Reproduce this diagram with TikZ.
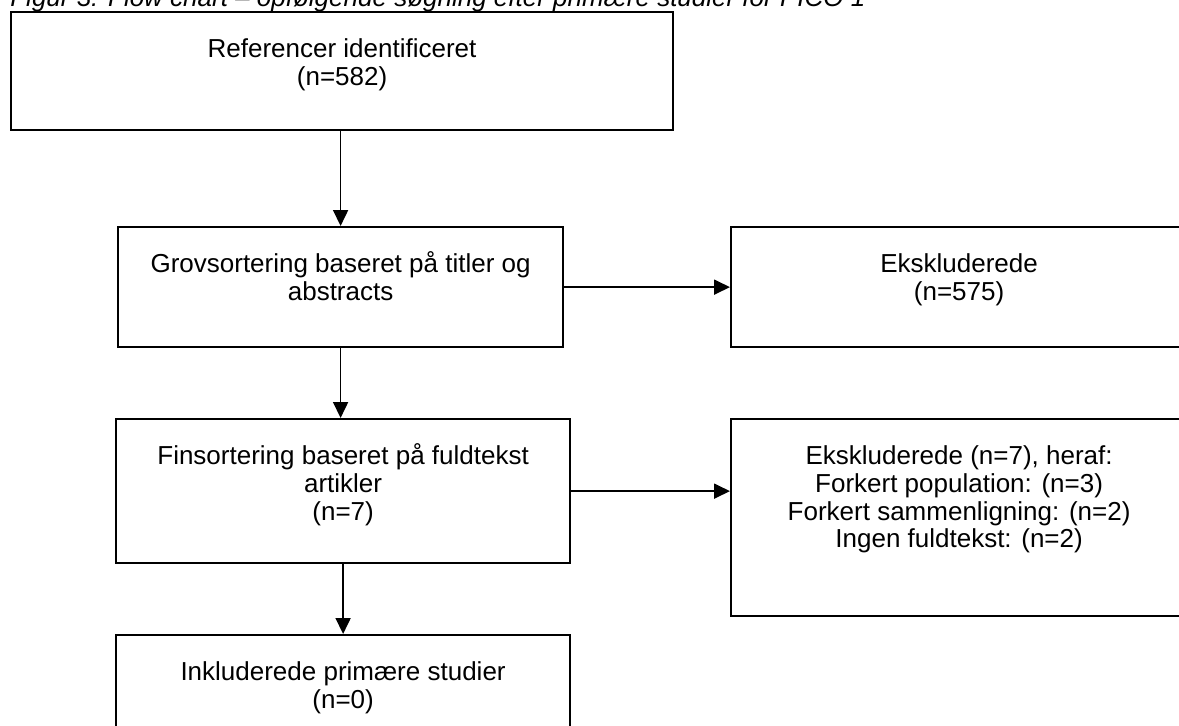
\documentclass[tikz,border=0pt]{standalone}
\usepackage{fontspec}
\setmainfont{Liberation Sans}
\usetikzlibrary{arrows.meta}
\newcommand{\boxlines}[3]{\parbox[c][#2][t]{#1}{\centering\rule{0pt}{0.9cm}#3}}

\begin{document}
\begin{tikzpicture}[x=0.02cm, y=-0.02cm,
      arr/.style={-{Triangle[length=3.2mm,width=3mm]}, line width=1pt},
      flowbox/.style={draw, line width=1.3pt, inner sep=0pt, anchor=north west,
                      font=\fontsize{14.8}{15.9}\selectfont}
    ]
    \useasboundingbox (0,0) rectangle (1179,726);

    \node[anchor=base west, inner sep=0pt,
          font=\fontsize{14.8}{15.9}\selectfont\itshape] (caption) at (10,7)
      {Figur 3: Flow chart – opfølgende søgning efter primære studier for PICO 1};

    \node[flowbox] (ident) at (10,11)
      {\boxlines{13.24cm}{2.36cm}{Referencer identificeret\\(n=582)}};
    \node[flowbox] (grov) at (117,226)
      {\boxlines{8.9cm}{2.4cm}{Grovsortering baseret på titler og\\abstracts}};
    \node[flowbox] (eks1) at (730,226)
      {\boxlines{9.12cm}{2.4cm}{Ekskluderede\\(n=575)}};
    \node[flowbox] (fin) at (115,418)
      {\boxlines{9.08cm}{2.88cm}{Finsortering baseret på fuldtekst\\artikler\\(n=7)}};
    \node[flowbox] (eks2) at (730,418)
      {\boxlines{9.12cm}{3.94cm}{Ekskluderede (n=7), heraf:\\Forkert population: (n=3)\\
        Forkert sammenligning: (n=2)\\Ingen fuldtekst: (n=2)}};
    \node[flowbox] (inkl) at (115,634)
      {\boxlines{9.08cm}{2.12cm}{Inkluderede primære studier\\(n=0)}};

    \draw[arr] (ident.south -| grov.north) -- (grov.north);
    \draw[arr] (grov.east) -- (eks1.west);
    \draw[arr] (grov.south) -- (grov.south |- fin.north);
    \draw[arr] (fin.east) -- (fin.east -| eks2.west);
    \draw[arr] (fin.south) -- (inkl.north);
  \end{tikzpicture}
\end{document}
